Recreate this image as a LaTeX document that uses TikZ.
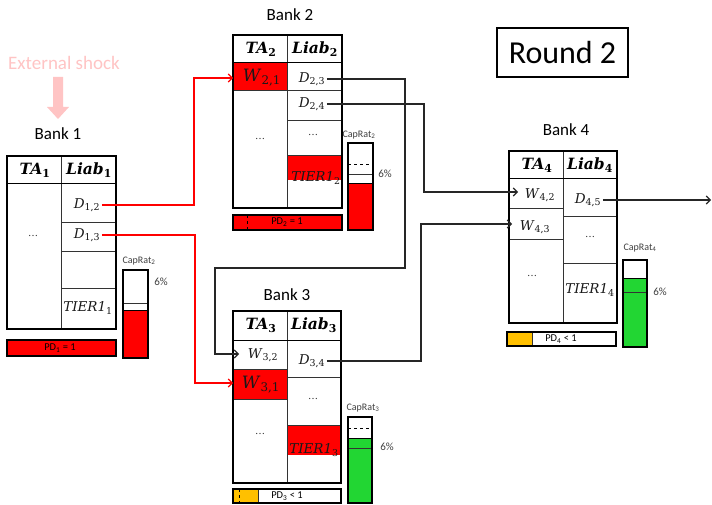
\documentclass[tikz,border=0pt]{standalone}
\usepackage[no-math]{fontspec}
\usetikzlibrary{arrows.meta}
\newfontfamily\calib{Carlito}
\newfontfamily\cellserif{DejaVu Serif}
\definecolor{bankred}{RGB}{255,0,0}
\definecolor{bankgreen}{RGB}{34,214,51}
\definecolor{pdorange}{RGB}{255,192,0}
\definecolor{shockpink}{RGB}{255,196,196}
\definecolor{labelgray}{RGB}{64,64,64}

% italic symbol with upright subscript, and its bold header variant
\newcommand\ml[2]{\textit{#1}\textsubscript{\upshape #2}}
\newcommand\mh[2]{\textbf{\textit{#1}}\textsubscript{\upshape\bfseries #2}}

\tikzset{
  outer/.style={draw=black, line width=2pt},
  grid/.style={draw=black!80, line width=0.7pt},
  cellbox/.style={rectangle, inner sep=0pt, outer sep=0pt, anchor=north west},
  mlab/.style={font=\cellserif\fontsize{13.5}{13.5}\selectfont, inner sep=1.5pt, text=black!90},
  hlab/.style={font=\cellserif\fontsize{15.5}{15.5}\selectfont, inner sep=1pt},
  biglab/.style={font=\cellserif\fontsize{17}{17}\selectfont, inner sep=1.5pt, text=black!90},
  dots/.style={font=\cellserif\fontsize{10}{10}\selectfont, inner sep=0pt, text=black!80},
  banklab/.style={font=\calib\fontsize{17}{17}\selectfont},
  smalllab/.style={font=\calib\fontsize{10}{10}\selectfont, text=labelgray, inner sep=0pt},
  pctlab/.style={font=\calib\fontsize{11}{11}\selectfont, text=labelgray, inner sep=0pt},
  pdlab/.style={font=\calib\fontsize{10.5}{10.5}\selectfont, inner sep=0pt},
  link/.style={line width=1.1pt, draw=black!85, -{Straight Barb[length=4pt,width=8pt]}},
  redlink/.style={link, draw=bankred},
  barframe/.style={draw=black, line width=2pt},
}

\begin{document}
\begin{tikzpicture}[x=1pt,y=-1pt]
\useasboundingbox (0,0) rectangle (712,505);
\fill[white] (0,0) rectangle (712,505);

% ---------- external shock ----------
\node[font=\calib\fontsize{19}{19}\selectfont, text=shockpink] (shock) at (64,63) {External shock};
\fill[shockpink] (53,77) -- (63,77) -- (63,107) -- (69,107) -- (58,119) -- (47,107) -- (53,107) -- cycle;

% ---------- round label ----------
\node[draw, line width=1.3pt, minimum width=131pt, minimum height=49pt,
      font=\calib\fontsize{32}{32}\selectfont] (round) at (562.5,52.5) {Round 2};

% ================= Bank 1 =================
\node[banklab] (bank1) at (58,134) {Bank 1};
\draw[grid] (61,156) -- (61,329);
\draw[line width=1pt] (7,184) -- (116,184);
\draw[grid] (61,222) -- (116,222) (61,251) -- (116,251) (61,288) -- (116,288);
\draw[outer] (7,156) rectangle (116,329);
\node[hlab] (ta1) at (35,170) {\mh{TA}{1}};
\node[hlab] (liab1) at (89,170) {\mh{Liab}{1}};
\node[mlab] (d12) at (87,205) {\ml{D}{1,2}};
\node[mlab] (d13) at (87,235) {\ml{D}{1,3}};
\node[dots] (dots1) at (33,236) {\ldots};
\node[mlab] (tier11) at (88,308) {\ml{TIER1}{1}};
% PD bar
\filldraw[barframe, fill=bankred] (7,340) rectangle (116,356);
\node[pdlab] (pd1) at (60,348) {PD\textsubscript{1} = 1};
% capital ratio bar
\fill[bankred] (123,310) rectangle (148,358);
\draw[grid] (123,303) -- (148,303);
\draw[line width=1pt] (123,310) -- (148,310);
\draw[barframe] (123,270) rectangle (148,358);
\node[smalllab] (cap1) at (139,261) {CapRat\textsubscript{2}};
\node[pctlab] (pct1) at (161,282) {6\%};

% ================= Bank 2 =================
\node[banklab] (bank2) at (290,15) {Bank 2};
\node[cellbox, fill=bankred, minimum width=54pt, minimum height=27pt] (w21c) at (233,63) {};
\fill[bankred] (287,155) rectangle (342,180);
\draw[grid] (287,35) -- (287,208);
\draw[line width=1pt] (233,63) -- (342,63);
\draw[grid] (233,90) -- (342,90) (287,120) -- (342,120) (287,155) -- (342,155);
\draw[outer] (233,35) rectangle (342,208);
\node[hlab] (ta2) at (261,49) {\mh{TA}{2}};
\node[hlab] (liab2) at (315,49) {\mh{Liab}{2}};
\node[biglab] (w21) at (262,78) {\ml{W}{2,1}};
\node[mlab] (d23) at (312,79) {\ml{D}{2,3}};
\node[mlab] (d24) at (312,104) {\ml{D}{2,4}};
\node[dots] (dots2r) at (313,135) {\ldots};
\node[dots] (dots2l) at (260,139) {\ldots};
\node[mlab] (tier12) at (316,178) {\ml{TIER1}{2}};
% PD bar
\filldraw[barframe, fill=bankred] (233,215) rectangle (342,230);
\draw[dashed, line width=0.8pt] (247,215) -- (247,230);
\node[pdlab] (pd2) at (287,222) {PD\textsubscript{2} = 1};
% capital ratio bar
\fill[bankred] (348,184) rectangle (373,230);
\draw[dashed, line width=1pt] (348,165) -- (373,165);
\draw[grid] (348,174) -- (373,174);
\draw[line width=1pt] (348,184) -- (373,184);
\draw[barframe] (348,143) rectangle (373,230);
\node[smalllab] (cap2) at (359,135) {CapRat\textsubscript{2}};
\node[pctlab] (pct2) at (385,174) {6\%};

% ================= Bank 3 =================
\node[banklab] (bank3) at (287,295) {Bank 3};
\node[cellbox, fill=bankred, minimum width=54pt, minimum height=30pt] (w31c) at (233,369) {};
\node[cellbox, minimum width=54pt, minimum height=29pt] (w32c) at (233,340) {};
\fill[bankred] (287,425) rectangle (341,455);
\draw[grid] (287,311) -- (287,483);
\draw[line width=1pt] (233,340) -- (341,340);
\draw[grid] (233,369) -- (287,369) (233,399) -- (287,399) (287,377) -- (341,377) (287,425) -- (341,425);
\draw[outer] (233,311) rectangle (341,483);
\node[hlab] (ta3) at (261,325) {\mh{TA}{3}};
\node[hlab] (liab3) at (314,325) {\mh{Liab}{3}};
\node[mlab] (w32) at (263,355) {\ml{W}{3,2}};
\node[biglab] (w31) at (261,385) {\ml{W}{3,1}};
\node[mlab] (d34) at (312,361) {\ml{D}{3,4}};
\node[dots] (dots3r) at (313,399) {\ldots};
\node[dots] (dots3l) at (260,434) {\ldots};
\node[mlab] (tier13) at (314,450) {\ml{TIER1}{3}};
% PD bar
\fill[pdorange] (233,489) rectangle (258,503);
\draw[grid] (258,489) -- (258,503);
\draw[dashed, line width=0.8pt] (239,489) -- (239,503);
\draw[barframe] (233,489) rectangle (341,503);
\node[pdlab] (pd3) at (287,496) {PD\textsubscript{3} < 1};
% capital ratio bar
\fill[bankgreen] (348,438) rectangle (372,503);
\draw[dashed, line width=1pt] (348,428) -- (372,428);
\draw[line width=1pt] (348,438) -- (372,438);
\draw[grid] (348,448) -- (372,448);
\draw[barframe] (348,417) rectangle (372,503);
\node[smalllab] (cap3) at (363,408) {CapRat\textsubscript{3}};
\node[pctlab] (pct3) at (387,447) {6\%};

% ================= Bank 4 =================
\node[banklab] (bank4) at (566,130) {Bank 4};
\node[cellbox, minimum width=54pt, minimum height=29pt] (w42c) at (509,179) {};
\node[cellbox, minimum width=54pt, minimum height=31pt] (w43c) at (509,208) {};
\draw[grid] (563,151) -- (563,323);
\draw[line width=1pt] (509,179) -- (617,179);
\draw[grid] (509,208) -- (563,208) (509,239) -- (563,239) (563,216) -- (617,216) (563,263) -- (617,263);
\draw[outer] (509,151) rectangle (617,323);
\node[hlab] (ta4) at (537,165) {\mh{TA}{4}};
\node[hlab] (liab4) at (590,165) {\mh{Liab}{4}};
\node[mlab] (w42) at (540,195) {\ml{W}{4,2}};
\node[mlab] (w43) at (535,227) {\ml{W}{4,3}};
\node[mlab] (d45) at (588,200) {\ml{D}{4,5}};
\node[dots] (dots4r) at (590,237) {\ldots};
\node[dots] (dots4l) at (532,276) {\ldots};
\node[mlab] (tier14) at (590,290) {\ml{TIER1}{4}};
% PD bar
\fill[pdorange] (507,332) rectangle (532,346);
\draw[grid] (532,332) -- (532,346);
\draw[barframe] (507,332) rectangle (616,346);
\node[pdlab] (pd4) at (561,339) {PD\textsubscript{4} < 1};
% capital ratio bar
\fill[bankgreen] (623,278) rectangle (647,347);
\draw[line width=1pt] (623,278) -- (647,278);
\draw[grid] (623,292) -- (647,292);
\draw[barframe] (623,260) rectangle (647,347);
\node[smalllab] (cap4) at (640,248) {CapRat\textsubscript{4}};
\node[pctlab] (pct4) at (660,292) {6\%};

% ================= exposures =================
\coordinate (r1) at (194,78);
\coordinate (r2) at (195,383);
\draw[redlink] (d12.east) -| (r1) -- (r1 -| w21c.west);
\draw[redlink] (d13.east) -| (r2) -- (r2 -| w31c.west);

\coordinate (k1) at (405,268);
\coordinate (k2) at (215,354);
\draw[link, shorten >=-6pt] (d23.east) -| (k1) -| (k2) -- (k2 -| w32c.west);

\coordinate (k3) at (424,192);
\draw[link, shorten >=-9pt] (d24.east) -| (k3) -- (k3 -| w42c.west);

\coordinate (k4) at (421,224);
\draw[link, shorten >=-3pt] (d34.east) -| (k4) -- (k4 -| w43c.west);

\coordinate (out) at (711,200);
\draw[link] (d45.east) -- (d45.east -| out);
\end{tikzpicture}
\end{document}
